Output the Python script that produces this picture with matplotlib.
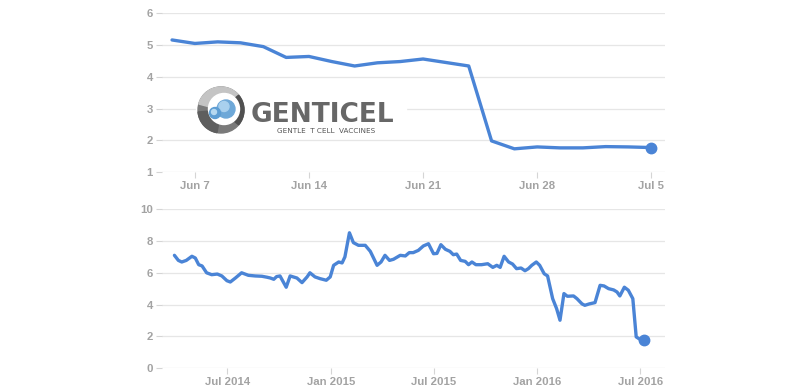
import matplotlib
matplotlib.use("Agg")
import matplotlib.pyplot as plt
import pandas as pd
from matplotlib.patches import Circle, Rectangle, Wedge

# ---------------- data ----------------
top_days = ['Jun 6', 'Jun 7', 'Jun 8', 'Jun 9', 'Jun 10', 'Jun 13', 'Jun 14',
            'Jun 15', 'Jun 16', 'Jun 17', 'Jun 20', 'Jun 21', 'Jun 22', 'Jun 23',
            'Jun 24', 'Jun 27', 'Jun 28', 'Jun 29', 'Jun 30', 'Jul 1', 'Jul 4', 'Jul 5']
top_values = [5.16, 5.05, 5.10, 5.07, 4.95, 4.61, 4.64, 4.48, 4.34, 4.44, 4.48,
              4.56, 4.45, 4.34, 1.98, 1.73, 1.79, 1.76, 1.76, 1.80, 1.79, 1.77]
top_ticks = ['Jun 7', 'Jun 14', 'Jun 21', 'Jun 28', 'Jul 5']
top_yticks = [1, 2, 3, 4, 5, 6]

bottom_dates = [
    '2014-03-29', '2014-04-05', '2014-04-11', '2014-04-19', '2014-04-29', '2014-05-05',
    '2014-05-11', '2014-05-17', '2014-05-25', '2014-06-03', '2014-06-13', '2014-06-21',
    '2014-06-30', '2014-07-06', '2014-07-15', '2014-07-26', '2014-08-07', '2014-08-19',
    '2014-08-31', '2014-09-09', '2014-09-15', '2014-09-21', '2014-09-26', '2014-10-02',
    '2014-10-13', '2014-10-20', '2014-11-01', '2014-11-10', '2014-11-19', '2014-11-24',
    '2014-12-03', '2014-12-12', '2014-12-23', '2014-12-30', '2015-01-05', '2015-01-14',
    '2015-01-20', '2015-01-25', '2015-02-02', '2015-02-09', '2015-02-18', '2015-03-02',
    '2015-03-11', '2015-03-23', '2015-03-30', '2015-04-06', '2015-04-14', '2015-04-21',
    '2015-05-03', '2015-05-12', '2015-05-19', '2015-05-26', '2015-06-04', '2015-06-13',
    '2015-06-22', '2015-07-01', '2015-07-07', '2015-07-14', '2015-07-22', '2015-07-30',
    '2015-08-05', '2015-08-11', '2015-08-18', '2015-08-26', '2015-09-01', '2015-09-07',
    '2015-09-14', '2015-09-24', '2015-10-05', '2015-10-14', '2015-10-21', '2015-10-27',
    '2015-11-03', '2015-11-11', '2015-11-18', '2015-11-25', '2015-12-03', '2015-12-10',
    '2015-12-16', '2015-12-22', '2015-12-30', '2016-01-05', '2016-01-13', '2016-01-19',
    '2016-01-28', '2016-02-04', '2016-02-10', '2016-02-17', '2016-02-23', '2016-03-05',
    '2016-03-11', '2016-03-20', '2016-03-25', '2016-04-02', '2016-04-12', '2016-04-21',
    '2016-04-28', '2016-05-06', '2016-05-15', '2016-05-21', '2016-05-26', '2016-06-03',
    '2016-06-10', '2016-06-18', '2016-06-24', '2016-06-30', '2016-07-07']
bottom_values = [
    7.10, 6.78, 6.68, 6.78, 7.04, 6.93,
    6.51, 6.43, 6.00, 5.88, 5.92, 5.80,
    5.50, 5.42, 5.67, 6.00, 5.84, 5.80,
    5.78, 5.72, 5.67, 5.59, 5.76, 5.80,
    5.09, 5.80, 5.67, 5.38, 5.74, 6.00,
    5.74, 5.63, 5.53, 5.74, 6.47, 6.68,
    6.62, 7.00, 8.52, 7.90, 7.73, 7.73,
    7.35, 6.47, 6.68, 7.10, 6.78, 6.85,
    7.10, 7.06, 7.27, 7.27, 7.41, 7.69,
    7.83, 7.20, 7.22, 7.77, 7.48, 7.35,
    7.14, 7.18, 6.78, 6.72, 6.51, 6.68,
    6.51, 6.51, 6.57, 6.34, 6.47, 6.34,
    7.04, 6.68, 6.55, 6.26, 6.30, 6.13,
    6.26, 6.47, 6.68, 6.47, 5.94, 5.80,
    4.37, 3.74, 3.01, 4.69, 4.52, 4.54,
    4.37, 4.04, 3.95, 4.04, 4.12, 5.21,
    5.17, 5.00, 4.92, 4.79, 4.54, 5.09,
    4.90, 4.37, 1.96, 1.82, 1.75]
bottom_ticks = ['2014-07-01', '2015-01-01', '2015-07-01', '2016-01-01', '2016-07-01']
bottom_ticklabels = ['Jul 2014', 'Jan 2015', 'Jul 2015', 'Jan 2016', 'Jul 2016']
bottom_yticks = [0, 2, 4, 6, 8, 10]

# ---------------- style ----------------
LINE = '#4a84d6'
GRID = '#e6e6e6'
TICKC = '#d5d5d5'
LABC = '#a3a3a3'
W, H = 801, 392

fig = plt.figure(figsize=(W / 100, H / 100), dpi=100)
fig.patch.set_facecolor('white')


def frac(x0, y_top, x1, y_bot):
    return [x0 / W, 1 - y_bot / H, (x1 - x0) / W, (y_bot - y_top) / H]


def style(ax):
    for s in ax.spines.values():
        s.set_visible(False)
    ax.grid(axis='y', color=GRID, linewidth=0.9)
    ax.set_axisbelow(True)
    ax.tick_params(axis='both', colors=TICKC, length=4.5, width=0.8, pad=2)
    for lab in ax.get_xticklabels() + ax.get_yticklabels():
        lab.set_color(LABC)
        lab.set_fontfamily('Liberation Sans')
        lab.set_fontweight('bold')
        lab.set_fontsize(8.2)


# ---- top panel ----
ax1 = fig.add_axes(frac(162, 13.3, 665, 172))
ax1.plot(top_days, top_values, color=LINE, lw=2.4, solid_joinstyle='round',
         solid_capstyle='round', zorder=3)
ax1.plot(top_days[-1:], top_values[-1:], 'o', color=LINE, ms=7.5, zorder=4)
ax1.set_xlim(-0.44, 21.6)
ax1.set_ylim(1, 6)
ax1.set_yticks(top_yticks)
ax1.set_xticks([top_days.index(t) for t in top_ticks])
ax1.set_xticklabels(top_ticks)
style(ax1)

# ---- bottom panel ----
ax2 = fig.add_axes(frac(162, 209.3, 665, 368))
bd = pd.to_datetime(bottom_dates)
ax2.plot(bd, bottom_values, color=LINE, lw=2.4, solid_joinstyle='round',
         solid_capstyle='round', zorder=3)
ax2.plot(bd[-1:], bottom_values[-1:], 'o', color=LINE, ms=7.5, zorder=4)
ax2.set_xlim(pd.Timestamp('2014-03-07'), pd.Timestamp('2016-08-14'))
ax2.set_ylim(0, 10)
ax2.set_yticks(bottom_yticks)
ax2.set_xticks(pd.to_datetime(bottom_ticks))
ax2.set_xticklabels(bottom_ticklabels)
style(ax2)

# ---- logo overlay (pixel coordinates, y downward) ----
ov = fig.add_axes([0, 0, 1, 1], zorder=5)
ov.set_xlim(0, W)
ov.set_ylim(H, 0)
ov.axis('off')
ov.add_patch(Rectangle((196, 84), 210, 52, color='white', zorder=1))
cx, cy = 221, 110
# ring: data angle = -visual angle because y is inverted
ov.add_patch(Circle((cx, cy), 23, color='#7a7a7a', zorder=2))
ov.add_patch(Wedge((cx, cy), 23, -165, -35, width=10, color='#c4c4c4', zorder=3))
ov.add_patch(Wedge((cx, cy), 23, 100, 175, width=10, color='#5e5e5e', zorder=3))
ov.add_patch(Wedge((cx, cy), 23, -40, 40, width=6, color='#505050', zorder=3))
ov.add_patch(Circle((cx + 3, cy - 1), 15.5, color='white', zorder=4))
# blue spheres
ov.add_patch(Circle((cx + 5, cy - 1), 9, color='#6ea8d8', zorder=5))
ov.add_patch(Circle((cx + 3, cy - 3.5), 5, color='#a9d0ee', zorder=6))
ov.add_patch(Circle((cx - 6, cy + 3), 5.5, color='#5d9dd3', zorder=6))
ov.add_patch(Circle((cx - 7, cy + 2), 2.5, color='#b6d8f0', zorder=7))
ov.text(251, 122, 'GENTICEL', fontsize=19, fontweight='bold',
        family='DejaVu Sans', color='#676767', ha='left', va='baseline', zorder=8)
ov.text(277, 133, 'GENTLE  T CELL  VACCINES', fontsize=5.2,
        family='DejaVu Sans', color='#555555', ha='left', va='baseline', zorder=8)

fig.savefig('out.png', dpi=100, facecolor='white')
